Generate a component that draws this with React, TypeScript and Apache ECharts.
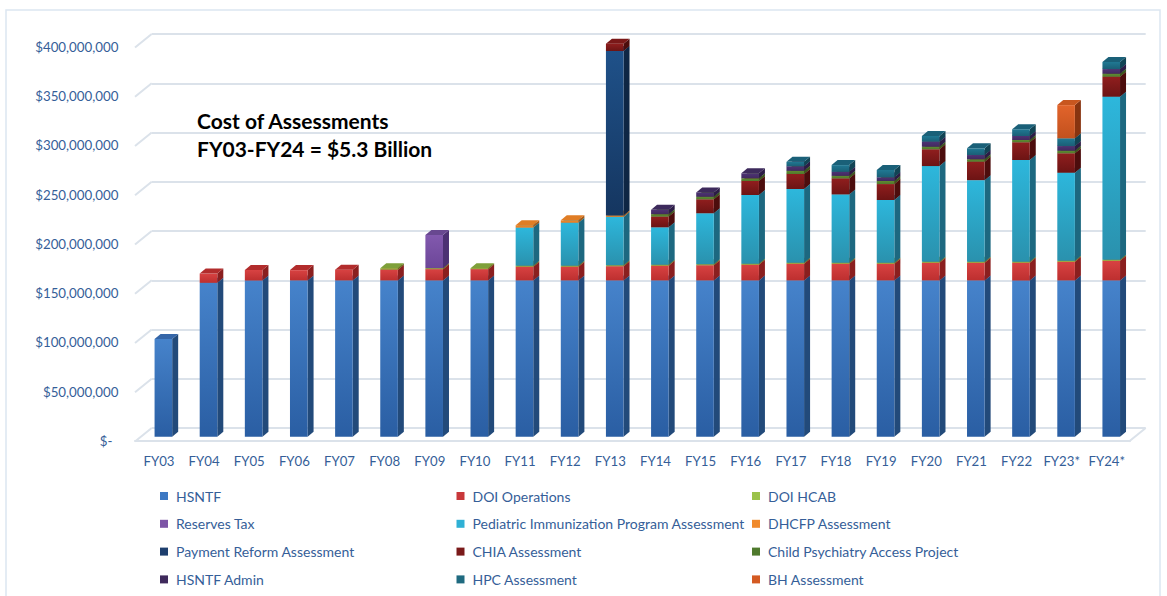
import React, { useEffect, useRef } from "react";
import * as echarts from "echarts";

// ---- data (values in $ millions) ----
const categories = ["FY03","FY04","FY05","FY06","FY07","FY08","FY09","FY10","FY11","FY12","FY13","FY14","FY15","FY16","FY17","FY18","FY19","FY20","FY21","FY22","FY23*","FY24*"];
const hsntf        = [100,157.5,160,160,160,160,160,160,160,160,160,160,160,160,160,160,160,160,160,160,160,160];
const doiOps       = [0,9.5,10.5,10.5,11,11,11.5,11.5,14,14,14.5,15,15.5,16,17,17,17,18,18,18,19,20];
const doiHcab      = [0,0,0,0,0,1.5,1,1,1,1,1,1,1,1,1,1,1,1,1,1,1,1];
const reservesTax  = [0,0,0,0,0,0,34,0,0,0,0,0,0,0,0,0,0,0,0,0,0,0];
const pediatric    = [0,0,0,0,0,0,0,0,39,44,49.5,38.3,52.2,70.4,75.5,70,64.3,98,83.6,104.2,90.2,167];
const dhcfp        = [0,0,0,0,0,0,0,0,2.5,2.5,1.5,0,0,0,0,0,0,0,0,0,0,0];
const paymentReform= [0,0,0,0,0,0,0,0,0,0,168.3,0,0,0,0,0,0,0,0,0,0,0];
const chia         = [0,0,0,0,0,0,0,0,0,0,7.5,11,14.3,14.3,15.4,16.4,16.3,17.2,18.9,18.1,19.9,20.5];
const childPsych   = [0,0,0,0,0,0,0,0,0,0,0,2.5,2.6,2.8,3.2,2.6,3.1,2.6,2.5,2.4,2.6,3];
const hsntfAdmin   = [0,0,0,0,0,0,0,0,0,0,0,4.4,4.4,5.1,4.7,4.1,3.8,5.2,4.3,4.1,4.8,4.8];
const hpc          = [0,0,0,0,0,0,0,0,0,0,0,0,0,0,4.5,6.9,7.5,5.8,6.9,6.8,7.9,7.2];
const bh           = [0,0,0,0,0,0,0,0,0,0,0,0,0,0,0,0,0,0,0,0,34,0];

const seriesNames = ["HSNTF","DOI Operations","DOI HCAB","Reserves Tax","Pediatric Immunization Program Assessment","DHCFP Assessment","Payment Reform Assessment","CHIA Assessment","Child Psychiatry Access Project","HSNTF Admin","HPC Assessment","BH Assessment"];
const seriesValues = [hsntf, doiOps, doiHcab, reservesTax, pediatric, dhcfp, paymentReform, chia, childPsych, hsntfAdmin, hpc, bh];
const yTicks = [0, 50, 100, 150, 200, 250, 300, 350, 400];

const legendCol1 = ["HSNTF", "Reserves Tax", "Payment Reform Assessment", "HSNTF Admin"];
const legendCol2 = ["DOI Operations", "Pediatric Immunization Program Assessment", "CHIA Assessment", "HPC Assessment"];
const legendCol3 = ["DOI HCAB", "DHCFP Assessment", "Child Psychiatry Access Project", "BH Assessment"];

// ---- styles ----
const styles = [
  { top: "#4683cb", bottom: "#2a5ea3", side: "#224a7a", cap: "#3566a8", legend: "#3d78c3" },
  { top: "#d84242", bottom: "#bd2f2f", side: "#8a1f1f", cap: "#b22c2c", legend: "#c8383a" },
  { top: "#a3c24a", bottom: "#8fae3a", side: "#5f7a25", cap: "#7ea03a", legend: "#9bc24a" },
  { top: "#8259ae", bottom: "#6c4698", side: "#4c3173", cap: "#684890", legend: "#7d55a6" },
  { top: "#2db7dc", bottom: "#2a91ad", side: "#1d6880", cap: "#2aa0c0", legend: "#2fb0d5" },
  { top: "#f08c2e", bottom: "#e07a22", side: "#a45818", cap: "#e07d25", legend: "#f08a2c" },
  { top: "#1f5189", bottom: "#153660", side: "#0e2644", cap: "#1a4170", legend: "#1e3f6e" },
  { top: "#901e1e", bottom: "#6c1414", side: "#4c0d0d", cap: "#7a1818", legend: "#7a1a1a" },
  { top: "#5f8b33", bottom: "#527a2b", side: "#3b5820", cap: "#4f762a", legend: "#4f7a2d" },
  { top: "#4d3374", bottom: "#42295f", side: "#2c1c46", cap: "#3d2a5c", legend: "#3f2a5c" },
  { top: "#207893", bottom: "#1a5f76", side: "#114454", cap: "#1a6078", legend: "#1f6a80" },
  { top: "#e2642b", bottom: "#c2511e", side: "#883410", cap: "#c8561f", legend: "#d45a22" },
];

const TXT = "#355e98";
const GRIDC = "#dbe2ea";
const M = 1e6;

function makeRender(st: any) {
  return (params: any, api: any) => {
    const v0 = api.value(1);
    const v1 = api.value(2);
    if (!(v1 > v0)) return null;
    const c = api.value(0);
    const pb = api.coord([c, v0]);
    const pt = api.coord([c, v1]);
    const w = 17.6, dx = 6, dy = -5;
    const x0 = pb[0] - 4.4;
    const yb = pb[1], yt = pt[1];
    return {
      type: "group",
      children: [
        { type: "polygon", shape: { points: [[x0 + w, yt], [x0 + w + dx, yt + dy], [x0 + w + dx, yb + dy], [x0 + w, yb]] }, style: { fill: st.side } },
        { type: "rect", shape: { x: x0, y: yt, width: w, height: yb - yt }, style: { fill: new echarts.graphic.LinearGradient(0, 0, 0, 1, [{ offset: 0, color: st.top }, { offset: 1, color: st.bottom }]) } },
        { type: "polygon", shape: { points: [[x0, yt], [x0 + dx, yt + dy], [x0 + w + dx, yt + dy], [x0 + w, yt]] }, style: { fill: st.cap } },
      ],
    };
  };
}

export default function App() {
  const ref = useRef<HTMLDivElement>(null);
  useEffect(() => {
    if (!ref.current) return;
    const chart = echarts.init(ref.current, undefined, { renderer: "svg" });

    const cum = categories.map(() => 0);
    const barSeries = seriesNames.map((name, i) => {
      const vals = seriesValues[i];
      const data = categories.map((_, k) => {
        const base = cum[k];
        const topV = base + vals[k];
        cum[k] = topV;
        return [k, base * M, topV * M];
      });
      return {
        type: "custom",
        name,
        xAxisIndex: 0,
        yAxisIndex: 0,
        encode: { x: 0, y: [1, 2] },
        itemStyle: { color: styles[i].legend },
        renderItem: makeRender(styles[i]),
        data,
        z: 5,
      };
    });

    const legendBase = {
      orient: "vertical",
      top: 488,
      padding: 0,
      itemWidth: 8,
      itemHeight: 8,
      itemGap: 11.8,
      icon: "rect",
      selectedMode: false,
      textStyle: { color: TXT, fontFamily: "Lato", fontSize: 14, lineHeight: 16, padding: [0, 0, 0, 3] },
    };

    const option: any = {
      animation: false,
      backgroundColor: "#ffffff",
      title: {
        text: "Cost of Assessments\nFY03-FY24 = $5.3 Billion",
        left: 197,
        top: 106,
        padding: 0,
        textStyle: { fontFamily: "Lato", fontWeight: "bold", fontSize: 21, lineHeight: 28, color: "#000000" },
      },
      graphic: [
        { type: "rect", silent: true, shape: { x: 6, y: 10, width: 1154, height: 620 }, style: { fill: "none", stroke: "#dce6f1", lineWidth: 1.5 } },
      ],
      legend: [
        { ...legendBase, left: 160, data: legendCol1 },
        { ...legendBase, left: 456.5, data: legendCol2 },
        { ...legendBase, left: 752, data: legendCol3 },
      ],
      grid: [
        { left: 136.4, top: 45.9, width: 993, height: 390.8 },
        { left: 135, top: 46.7, width: 995, height: 394.3 },
        { left: 151.7, top: 34, width: 994, height: 394 },
      ],
      xAxis: [
        {
          type: "category", gridIndex: 0, data: categories,
          axisLine: { show: false }, axisTick: { show: false }, splitLine: { show: false },
          axisLabel: { margin: 17.5, fontFamily: "Lato", fontSize: 13.2, color: TXT, interval: 0 },
        },
        {
          type: "value", gridIndex: 1, min: 0, max: 1,
          axisLine: { show: true, lineStyle: { color: GRIDC, width: 2 } },
          axisTick: { show: false }, axisLabel: { show: false }, splitLine: { show: false },
        },
        { type: "value", gridIndex: 2, min: 0, max: 1, show: false },
      ],
      yAxis: [
        { type: "value", gridIndex: 0, min: 0, max: 400 * M, interval: 50 * M, show: false },
        {
          type: "value", gridIndex: 1, min: 0, max: 400 * M, interval: 50 * M,
          axisLine: { show: false }, axisTick: { show: false }, splitLine: { show: false },
          axisLabel: {
            margin: 16.6, fontFamily: "Lato", fontSize: 13.3, color: TXT,
            formatter: (v: number) => (v === 0 ? "{z|$-}" : "$" + Math.round(v).toLocaleString("en-US")),
            rich: { z: { fontFamily: "Lato", fontSize: 13.3, color: TXT, padding: [0, 6, 0, 0] } },
          },
        },
        {
          type: "value", gridIndex: 2, min: 0, max: 400 * M, interval: 50 * M,
          axisLine: { show: false }, axisTick: { show: false }, axisLabel: { show: false },
          splitLine: { show: true, lineStyle: { color: GRIDC, width: 2 } },
        },
      ],
      series: [
        {
          type: "custom",
          name: "walls",
          xAxisIndex: 2,
          yAxisIndex: 2,
          silent: true,
          z: 1,
          data: yTicks.map((t) => [0, t * M]),
          renderItem: (params: any, api: any) => {
            const p = api.coord([0, api.value(1)]);
            const children: any[] = [
              { type: "line", shape: { x1: p[0] - 16.7, y1: p[1] + 13.5, x2: p[0], y2: p[1] }, style: { stroke: GRIDC, lineWidth: 2 } },
            ];
            if (api.value(1) === 0) {
              const q = api.coord([1, 0]);
              children.push({ type: "line", shape: { x1: q[0] - 16.7, y1: q[1] + 13.5, x2: q[0], y2: q[1] }, style: { stroke: GRIDC, lineWidth: 2 } });
            }
            return { type: "group", children };
          },
        },
        ...barSeries,
      ],
    };
    chart.setOption(option);
    return () => chart.dispose();
  }, []);
  return (
    <div
      ref={ref}
      style={{ position: "fixed", left: 0, top: 0, width: 1167, height: 596, background: "#fff" }}
    />
  );
}
